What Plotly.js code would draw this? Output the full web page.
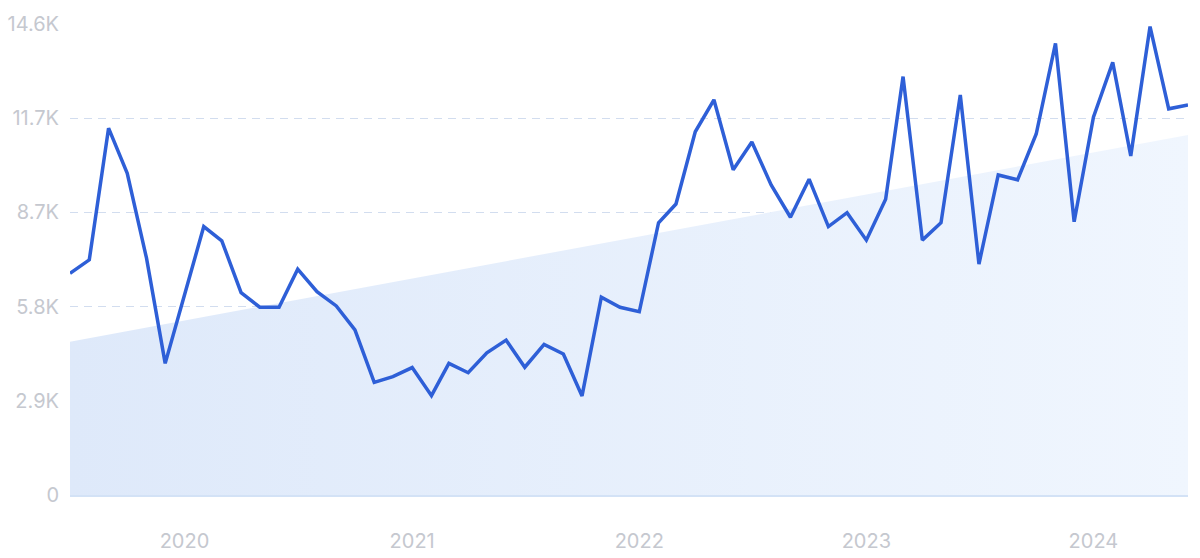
<!DOCTYPE html>
<html>
<head>
<meta charset="utf-8">
<script src="https://cdn.plot.ly/plotly-3.0.1.min.js"></script>
<style>
  html, body { margin: 0; padding: 0; background: #ffffff; }
  #chart { width: 1200px; height: 558px; }
</style>
</head>
<body>
<div id="chart"></div>
<script>
const months = [
  '2019-07-01','2019-08-01','2019-09-01','2019-10-01','2019-11-01','2019-12-01',
  '2020-01-01','2020-02-01','2020-03-01','2020-04-01','2020-05-01','2020-06-01',
  '2020-07-01','2020-08-01','2020-09-01','2020-10-01','2020-11-01','2020-12-01',
  '2021-01-01','2021-02-01','2021-03-01','2021-04-01','2021-05-01','2021-06-01',
  '2021-07-01','2021-08-01','2021-09-01','2021-10-01','2021-11-01','2021-12-01',
  '2022-01-01','2022-02-01','2022-03-01','2022-04-01','2022-05-01','2022-06-01',
  '2022-07-01','2022-08-01','2022-09-01','2022-10-01','2022-11-01','2022-12-01',
  '2023-01-01','2023-02-01','2023-03-01','2023-04-01','2023-05-01','2023-06-01',
  '2023-07-01','2023-08-01','2023-09-01','2023-10-01','2023-11-01','2023-12-01',
  '2024-01-01','2024-02-01','2024-03-01','2024-04-01','2024-05-01','2024-06-01'
];
const searches = [
  6870, 7290, 11370, 9970, 7340, 4080,
  6200, 8320, 7880, 6270, 5820, 5820,
  7000, 6300, 5860, 5120, 3490, 3670,
  3950, 3080, 4080, 3790, 4410, 4800,
  3960, 4670, 4370, 3070, 6130, 5820,
  5680, 8440, 9020, 11260, 12250, 10080,
  10940, 9610, 8610, 9790, 8320, 8750,
  7900, 9170, 12970, 7900, 8440, 12400,
  7160, 9920, 9770, 11190, 14000, 8470,
  11710, 13410, 10510, 14520, 11970, 12090
];
const trendDates = ['2019-07-01', '2024-06-01'];
const trendValues = [4750, 11160];
const yTickVals = [0, 2920, 5840, 8760, 11680, 14600];
const yTickText = ['0', '2.9K', '5.8K', '8.7K', '11.7K', '14.6K'];
const xTickVals = ['2020-01-01', '2021-01-01', '2022-01-01', '2023-01-01', '2024-01-01'];
const xTickText = ['2020', '2021', '2022', '2023', '2024'];

const trendTrace = {
  x: trendDates,
  y: trendValues,
  type: 'scatter',
  mode: 'lines',
  line: { width: 0, color: 'rgba(0,0,0,0)' },
  fill: 'tozeroy',
  fillcolor: '#e6effc',
  fillgradient: {
    type: 'horizontal',
    colorscale: [[0, '#dee9fa'], [1, '#f0f6fe']]
  },
  hoverinfo: 'skip',
  showlegend: false
};

const lineTrace = {
  x: months,
  y: searches,
  type: 'scatter',
  mode: 'lines',
  line: { color: '#2e5fd7', width: 3.5 },
  cliponaxis: false,
  showlegend: false
};

const layout = {
  width: 1200,
  height: 558,
  margin: { l: 70, r: 12, t: 24, b: 63 },
  paper_bgcolor: '#ffffff',
  plot_bgcolor: 'rgba(0,0,0,0)',
  font: { family: 'Inter, "Open Sans", sans-serif', color: '#c5c8cf', size: 20 },
  xaxis: {
    type: 'date',
    range: ['2019-07-01', '2024-06-01'],
    tickvals: xTickVals,
    ticktext: xTickText,
    showgrid: false,
    zeroline: false,
    showline: true,
    linecolor: '#d3e2f6',
    linewidth: 1.5,
    ticks: 'outside',
    ticklen: 27,
    tickcolor: 'rgba(0,0,0,0)',
    tickfont: { size: 20, color: '#c5c8cf' },
    fixedrange: true
  },
  yaxis: {
    range: [0, 14600],
    tickvals: yTickVals,
    ticktext: yTickText,
    showgrid: true,
    gridcolor: '#d2ddef',
    griddash: '8px,6px',
    gridwidth: 1.2,
    zeroline: false,
    showline: false,
    ticks: 'outside',
    ticklen: 6,
    tickcolor: 'rgba(0,0,0,0)',
    tickfont: { size: 20, color: '#c5c8cf' },
    fixedrange: true
  },
  showlegend: false
};

Plotly.newPlot('chart', [trendTrace, lineTrace], layout, { displayModeBar: false, staticPlot: true });
</script>
</body>
</html>
